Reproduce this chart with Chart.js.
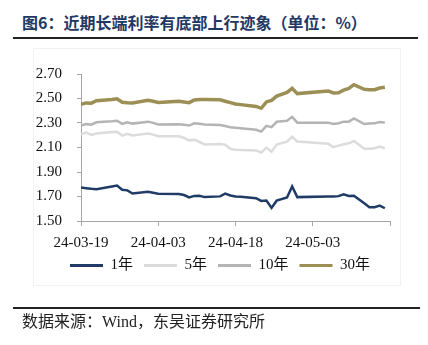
<!DOCTYPE html>
<html><head><meta charset="utf-8">
<script src="https://cdn.jsdelivr.net/npm/chart.js@4.4.1/dist/chart.umd.min.js"></script>
<style>
html,body{margin:0;padding:0;background:#fff;}
#wrap{position:relative;width:428px;height:345px;overflow:hidden;background:#fff;}
#frame{position:absolute;left:33px;top:48px;width:366px;height:236px;border:1px solid #f2f2f2;}
#title{position:absolute;left:22px;top:11px;font:700 16px/23px "Noto Sans CJK SC",sans-serif;color:#1f3864;white-space:nowrap;}
#rule1{position:absolute;left:13px;top:37px;width:405px;height:2px;background:#222;}
#rule2{position:absolute;left:13px;top:307px;width:407px;height:2px;background:#222;}
#source{position:absolute;left:22px;top:312px;font:16px/20px "Liberation Serif","Noto Sans CJK SC",serif;color:#222;white-space:nowrap;}
canvas{position:absolute;left:0;top:0;}
</style></head>
<body>
<div id="wrap">
  <div id="frame"></div>
  <div id="title">图6：近期长端利率有底部上行迹象（单位：%）</div>
  <div id="rule1"></div>
  <canvas id="c" width="428" height="345"></canvas>
  <div id="rule2"></div>
  <div id="source">数据来源：Wind，东吴证券研究所</div>
</div>
<script>
// trading dates (2024)
const dates = ['03-19','03-20','03-21','03-22','03-25','03-26','03-27','03-28','03-29','04-01','04-02','04-03',
  '04-07','04-08','04-09','04-10','04-11','04-12','04-15','04-16','04-17','04-18','04-19','04-22','04-23','04-24',
  '04-25','04-26','04-28','04-29','04-30','05-06','05-07','05-08','05-09','05-10','05-11','05-13','05-14','05-15',
  '05-16','05-17'];
const y1 = [1.773,1.768,1.763,1.760,1.782,1.790,1.755,1.750,1.724,1.738,1.730,1.722,
  1.721,1.712,1.692,1.705,1.706,1.695,1.701,1.724,1.708,1.700,1.698,1.686,1.664,1.667,
  1.607,1.666,1.692,1.782,1.695,1.700,1.701,1.703,1.718,1.704,1.706,1.645,1.613,1.613,
  1.626,1.604];
const y5 = [2.208,2.222,2.203,2.214,2.226,2.229,2.197,2.212,2.198,2.215,2.205,2.192,
  2.192,2.178,2.158,2.164,2.145,2.125,2.128,2.122,2.090,2.082,2.080,2.076,2.058,2.099,
  2.066,2.124,2.148,2.188,2.148,2.130,2.103,2.115,2.126,2.134,2.153,2.090,2.090,2.094,
  2.107,2.094];
const y10 = [2.280,2.292,2.286,2.306,2.314,2.318,2.293,2.305,2.295,2.311,2.301,2.288,
  2.290,2.286,2.279,2.297,2.293,2.287,2.283,2.276,2.266,2.262,2.258,2.245,2.230,2.277,
  2.266,2.310,2.318,2.350,2.303,2.303,2.292,2.298,2.311,2.311,2.338,2.292,2.295,2.297,
  2.308,2.304];
const y30 = [2.452,2.464,2.462,2.482,2.492,2.498,2.470,2.466,2.463,2.485,2.477,2.468,
  2.478,2.472,2.466,2.488,2.491,2.492,2.490,2.478,2.466,2.455,2.450,2.435,2.420,2.472,
  2.485,2.520,2.550,2.583,2.540,2.562,2.545,2.547,2.568,2.582,2.613,2.575,2.572,2.572,
  2.586,2.591];
const tickLabels = ['24-03-19','24-04-03','24-04-18','24-05-03',''];
const seriesNames = ['1年','5年','10年','30年'];

const start = Date.UTC(2024,2,19);
const dayOf = s => { const [m,d] = s.split('-').map(Number); return Math.round((Date.UTC(2024,m-1,d)-start)/86400000); };
const pts = arr => arr.map((v,i) => ({x: dayOf(dates[i]), y: v}));

const colors = ['#1f3b66','#dcdcdc','#b4b4b4','#9c8f55'];
const widths = [2.5,2.5,2.5,3.5];
const vals = [y1,y5,y10,y30];

const serif = '"Liberation Serif","Noto Sans CJK SC",serif';
const axisColor = '#a6a6a6';
const baseGen = Chart.defaults.plugins.legend.labels.generateLabels;

new Chart(document.getElementById('c'), {
  type: 'line',
  data: {
    datasets: seriesNames.map((n,k) => ({
      label: n, data: pts(vals[k]), borderColor: colors[k], backgroundColor: colors[k],
      borderWidth: widths[k], pointRadius: 0, tension: 0, fill: false
    }))
  },
  options: {
    responsive: false, animation: false,
    layout: { padding: { left: 34, right: 22, top: 74, bottom: 62 } },
    plugins: {
      tooltip: { enabled: false },
      legend: {
        position: 'bottom',
        labels: {
          boxWidth: 33, boxHeight: 3, padding: 11, color: '#111',
          font: { family: serif, size: 15 },
          generateLabels: ch => baseGen(ch).map(l => ({...l, lineWidth: 0, fillStyle: l.strokeStyle}))
        }
      }
    },
    scales: {
      x: {
        type: 'linear', min: 0, max: 60,
        afterFit: s => { s.height = 26; },
        grid: { drawOnChartArea: false, drawTicks: true, tickLength: 5, color: axisColor },
        border: { color: axisColor },
        ticks: { stepSize: 15, autoSkip: false, maxRotation: 0, padding: 8, color: '#111',
          font: { family: serif, size: 15 },
          callback: v => tickLabels[Math.round(v/15)] }
      },
      y: {
        min: 1.5, max: 2.7,
        afterFit: s => { s.width = 47; },
        grid: { drawOnChartArea: false, drawTicks: true, tickLength: 4, color: axisColor },
        border: { color: axisColor },
        ticks: { stepSize: 0.2, padding: 15, color: '#111',
          font: { family: serif, size: 15 },
          callback: v => v.toFixed(2) }
      },
      yR: {
        position: 'right', display: true,
        afterFit: s => { s.width = 16; },
        grid: { display: false }, border: { display: false }, ticks: { display: false }
      }
    }
  }
});
</script>
</body></html>
